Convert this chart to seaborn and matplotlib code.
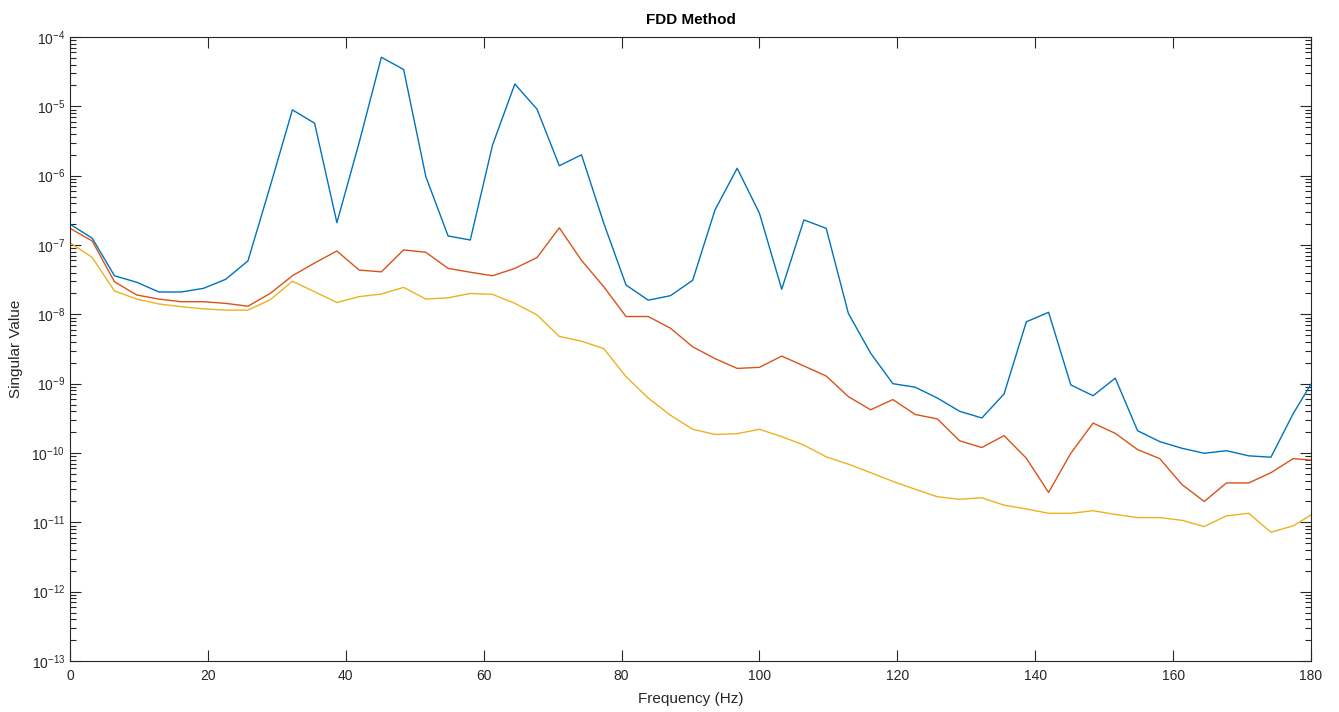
import numpy as np
import pandas as pd
import seaborn as sns
import matplotlib.pyplot as plt
from matplotlib.ticker import LogLocator, NullFormatter, MultipleLocator

freq = [0.00, 3.23, 6.45, 9.68, 12.90, 16.13, 19.35, 22.58, 25.81, 29.03,
        32.26, 35.48, 38.71, 41.94, 45.16, 48.39, 51.61, 54.84, 58.06, 61.29,
        64.52, 67.74, 70.97, 74.19, 77.42, 80.65, 83.87, 87.10, 90.32, 93.55,
        96.77, 100.00, 103.23, 106.45, 109.68, 112.90, 116.13, 119.35, 122.58, 125.81,
        129.03, 132.26, 135.48, 138.71, 141.94, 145.16, 148.39, 151.61, 154.84, 158.06,
        161.29, 164.52, 167.74, 170.97, 174.19, 177.42, 180.65]

sv1 = [2.0e-7, 1.25e-7, 3.6e-8, 2.9e-8, 2.1e-8, 2.1e-8, 2.37e-8, 3.2e-8, 5.9e-8, 7.0e-7,
       8.9e-6, 5.7e-6, 2.1e-7, 3.0e-6, 5.1e-5, 3.4e-5, 9.7e-7, 1.35e-7, 1.18e-7, 2.77e-6,
       2.1e-5, 9.1e-6, 1.39e-6, 2.0e-6, 2.06e-7, 2.65e-8, 1.6e-8, 1.86e-8, 3.1e-8, 3.2e-7,
       1.28e-6, 2.87e-7, 2.3e-8, 2.3e-7, 1.74e-7, 1.03e-8, 2.75e-9, 1.0e-9, 8.9e-10, 6.2e-10,
       4.0e-10, 3.2e-10, 7.1e-10, 7.8e-9, 1.07e-8, 9.6e-10, 6.7e-10, 1.2e-9, 2.1e-10, 1.46e-10,
       1.17e-10, 9.9e-11, 1.08e-10, 9.1e-11, 8.7e-11, 3.7e-10, 1.26e-9]

sv2 = [1.74e-7, 1.14e-7, 2.95e-8, 1.9e-8, 1.66e-8, 1.52e-8, 1.52e-8, 1.44e-8, 1.31e-8, 2.0e-8,
       3.6e-8, 5.5e-8, 8.2e-8, 4.35e-8, 4.1e-8, 8.5e-8, 7.85e-8, 4.6e-8, 4.05e-8, 3.6e-8,
       4.6e-8, 6.6e-8, 1.77e-7, 6.0e-8, 2.5e-8, 9.3e-9, 9.3e-9, 6.3e-9, 3.4e-9, 2.3e-9,
       1.66e-9, 1.72e-9, 2.5e-9, 1.8e-9, 1.29e-9, 6.5e-10, 4.2e-10, 5.9e-10, 3.6e-10, 3.1e-10,
       1.5e-10, 1.2e-10, 1.78e-10, 8.4e-11, 2.7e-11, 9.9e-11, 2.7e-10, 1.92e-10, 1.12e-10, 8.3e-11,
       3.5e-11, 2.0e-11, 3.7e-11, 3.7e-11, 5.2e-11, 8.3e-11, 7.8e-11]

sv3 = [1.08e-7, 6.6e-8, 2.17e-8, 1.66e-8, 1.41e-8, 1.29e-8, 1.2e-8, 1.15e-8, 1.15e-8, 1.62e-8,
       3.0e-8, 2.12e-8, 1.48e-8, 1.8e-8, 1.96e-8, 2.45e-8, 1.66e-8, 1.73e-8, 2.0e-8, 1.94e-8,
       1.44e-8, 9.8e-9, 4.8e-9, 4.1e-9, 3.2e-9, 1.26e-9, 6.2e-10, 3.5e-10, 2.2e-10, 1.85e-10,
       1.9e-10, 2.2e-10, 1.72e-10, 1.3e-10, 8.8e-11, 6.9e-11, 5.2e-11, 3.9e-11, 3.0e-11, 2.34e-11,
       2.15e-11, 2.26e-11, 1.77e-11, 1.56e-11, 1.35e-11, 1.35e-11, 1.47e-11, 1.3e-11, 1.17e-11, 1.17e-11,
       1.07e-11, 8.7e-12, 1.24e-11, 1.35e-11, 7.2e-12, 8.9e-12, 1.4e-11]

names = ['SV1', 'SV2', 'SV3']
colors = ['#0072BD', '#D95319', '#EDB120']

df = pd.DataFrame({
    'freq': freq * 3,
    'sv': sv1 + sv2 + sv3,
    'series': [n for n in names for _ in freq],
})

sns.set_style('white')
plt.rcParams['font.family'] = ['Liberation Sans', 'DejaVu Sans']

fig = plt.figure(figsize=(13.39, 7.12), dpi=100)
ax = fig.add_axes([70 / 1339, 1 - 661 / 712, (1311 - 70) / 1339, (661 - 37) / 712])

sns.lineplot(data=df, x='freq', y='sv', hue='series', palette=colors,
             linewidth=1.0, legend=False, ax=ax)

ax.set_yscale('log')
ax.set_xlim(0, 180)
ax.set_ylim(1e-13, 1e-4)
ax.xaxis.set_major_locator(MultipleLocator(20))
ax.yaxis.set_major_locator(LogLocator(base=10, numticks=20))
ax.yaxis.set_minor_locator(LogLocator(base=10, subs=np.arange(2, 10), numticks=200))
ax.yaxis.set_minor_formatter(NullFormatter())

gray = '#262626'
for s in ax.spines.values():
    s.set_color(gray)
    s.set_linewidth(0.8)
ax.tick_params(which='both', direction='in', top=True, right=True, bottom=True, left=True,
               colors=gray, labelcolor=gray, labelsize=10)
ax.tick_params(which='major', length=8, width=0.8)
ax.tick_params(which='minor', length=4.5, width=0.8)
ax.tick_params(axis='x', which='major', pad=6)

ax.set_xlabel('Frequency (Hz)', fontsize=11, color=gray, labelpad=6)
ax.set_ylabel('Singular Value', fontsize=11, color=gray, labelpad=6)
ax.set_title('FDD Method', fontsize=11, fontweight='bold', color='black', pad=9)

fig.savefig('out.png', dpi=100)
